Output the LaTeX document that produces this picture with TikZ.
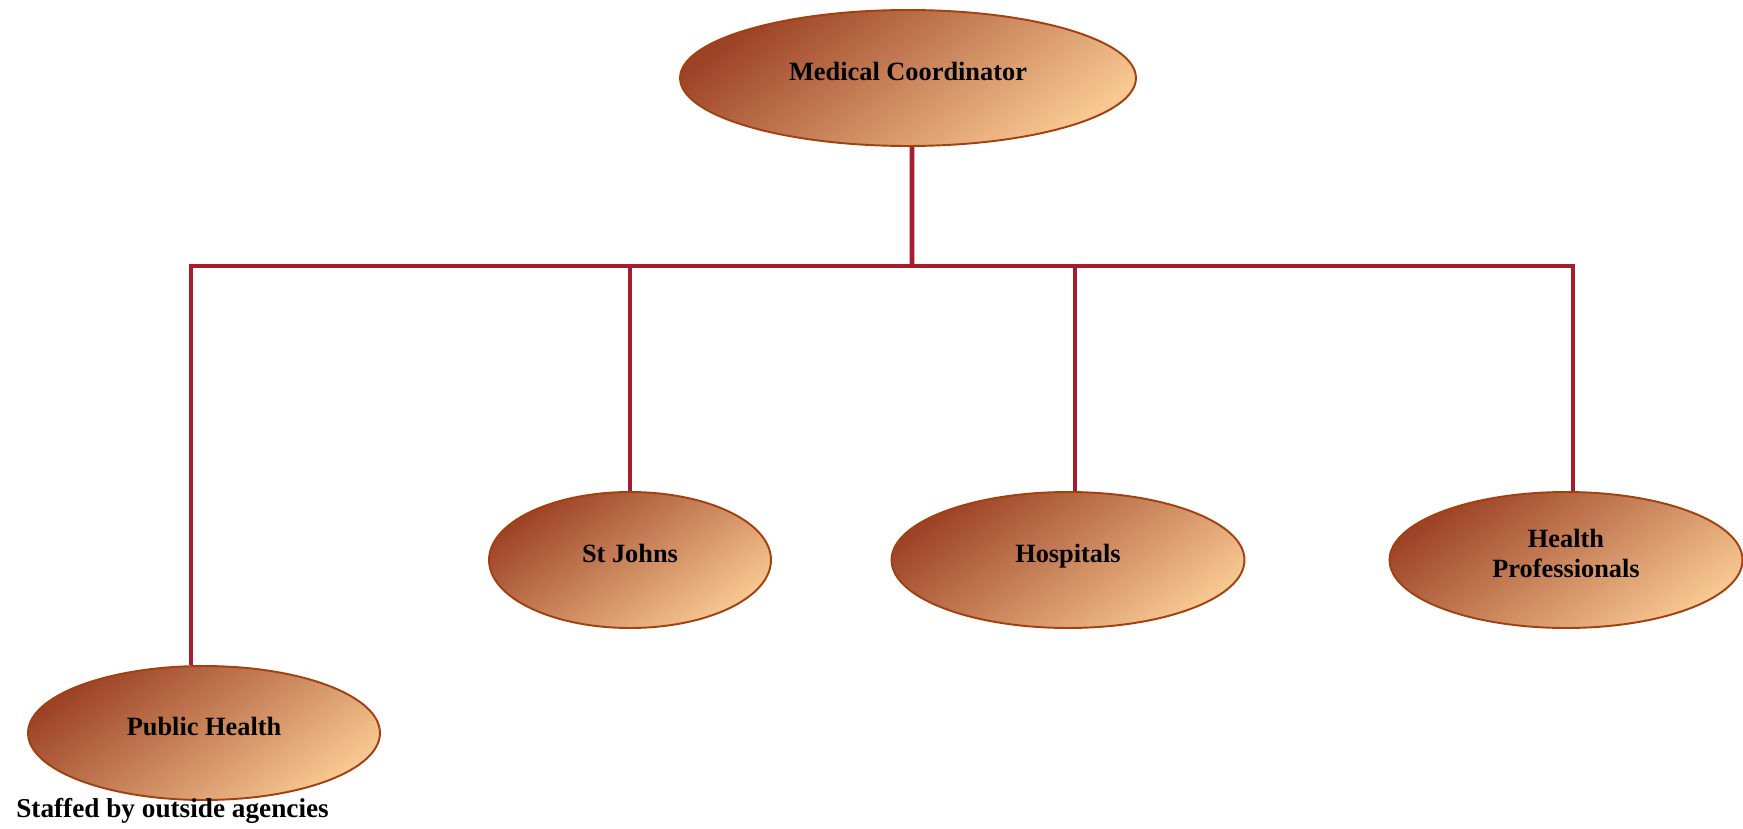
\documentclass[tikz,border=0pt]{standalone}
\usepackage{fontspec}
\setmainfont{Liberation Serif}
\usetikzlibrary{shapes.geometric}
\definecolor{linkred}{HTML}{A61E2E}
\definecolor{rimbrown}{HTML}{A3400F}
\definecolor{shadedark}{HTML}{9C4226}
\definecolor{shadelight}{HTML}{F8C892}

\begin{document}
\begin{tikzpicture}[x=0.02cm,y=-0.02cm,
	unit/.style={ellipse,draw=rimbrown,line width=1.1pt,inner sep=0pt,text depth=8pt,
		top color=shadedark,bottom color=shadelight,shading angle=35,
		font=\bfseries\fontsize{15}{17}\selectfont,align=center},
	link/.style={linkred,line width=2.8pt}]
	\useasboundingbox (0,0) rectangle (1743,828);
	\node[unit,minimum width=9.12cm,minimum height=2.72cm] (mc) at (908,78) {Medical Coordinator};
	\node[unit,minimum width=7.04cm,minimum height=2.68cm] (ph) at (204,733) {Public Health};
	\node[unit,minimum width=5.64cm,minimum height=2.72cm] (sj) at (630,560) {St Johns};
	\node[unit,minimum width=7.06cm,minimum height=2.72cm] (hos) at (1068,560) {Hospitals};
	\node[unit,minimum width=7.06cm,minimum height=2.72cm] (hp) at (1566,560) {Health\\Professionals};
	\node[anchor=west,inner sep=0pt,font=\bfseries\fontsize{15.5}{17}\selectfont] (note) at (16,811) {Staffed by outside agencies};
	\coordinate (bar) at (912,266);
	\draw[link] ([xshift=0.08cm]mc.south) -- (bar);
	\draw[link] ([xshift=-0.26cm]ph.north) -- ([xshift=-0.26cm]ph.north |- bar) -- ([xshift=0.14cm]hp.north |- bar) -- ([xshift=0.14cm]hp.north);
	\draw[link] (sj.north) -- (sj.north |- bar);
	\draw[link] ([xshift=0.14cm]hos.north) -- ([xshift=0.14cm]hos.north |- bar);
\end{tikzpicture}
\end{document}
